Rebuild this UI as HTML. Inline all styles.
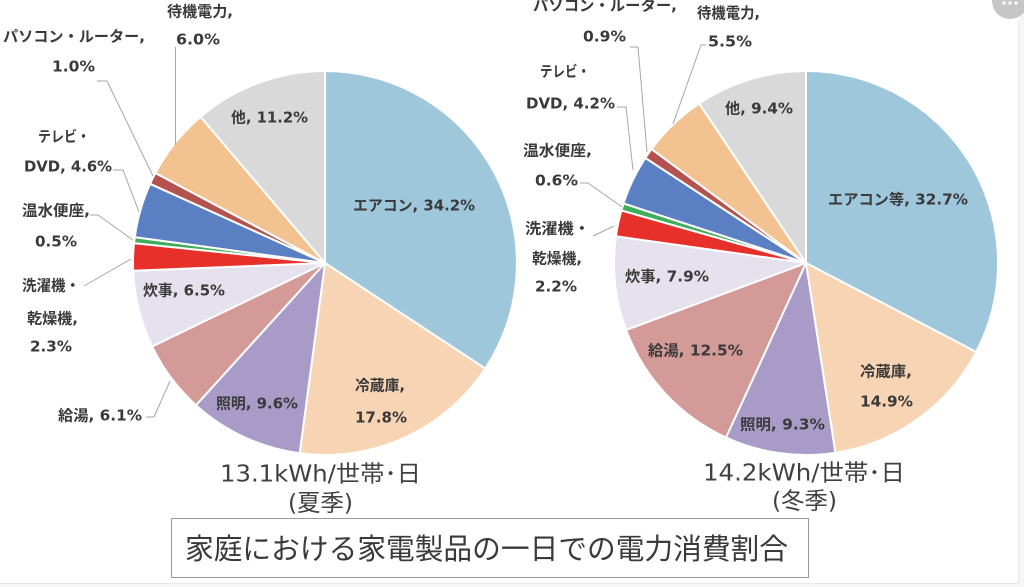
<!DOCTYPE html>
<html>
<head>
<meta charset="utf-8">
<style>
html,body{margin:0;padding:0;background:#ffffff;}
body{width:1024px;height:587px;overflow:hidden;position:relative;}
svg{position:absolute;left:0;top:0;}
.l{font-family:"DejaVu Sans","Noto Sans CJK JP",sans-serif;font-weight:bold;font-size:15px;fill:#3a3a3a;}
.s{font-family:"DejaVu Sans","Noto Sans CJK JP",sans-serif;font-weight:normal;font-size:23px;fill:#404040;}
.t{font-family:"Noto Sans CJK JP","Liberation Sans",sans-serif;font-weight:normal;font-size:29px;fill:#3a3a3a;}
</style>
</head>
<body>
<svg width="1024" height="587" viewBox="0 0 1024 587" xmlns="http://www.w3.org/2000/svg">
<rect x="0" y="0" width="1024" height="587" fill="#ffffff"/>
<rect x="1019" y="0" width="5" height="587" fill="#f6f6f6"/>
<rect x="0" y="583" width="1024" height="4" fill="#f6f6f6"/>
<line x1="1018.5" y1="20" x2="1018.5" y2="583" stroke="#e8e8e8" stroke-width="1"/>
<line x1="0" y1="583.5" x2="1019" y2="583.5" stroke="#e8e8e8" stroke-width="1"/>

<!-- top-right menu button -->
<circle cx="1010" cy="1" r="18" fill="#c6c6c6"/>
<circle cx="1004" cy="3" r="1.6" fill="#ffffff"/>
<circle cx="1010" cy="3" r="1.6" fill="#ffffff"/>
<circle cx="1016" cy="3" r="1.6" fill="#ffffff"/>

<!-- LEFT PIE -->
<g stroke="#ffffff" stroke-width="2" stroke-linejoin="round">
<path d="M325,263 L325,71 A192,192 0 0 1 485.3,368.6 Z" fill="#9ec7dc"/>
<path d="M325,263 L485.3,368.6 A192,192 0 0 1 299.7,453.3 Z" fill="#f7d4b3"/>
<path d="M325,263 L299.7,453.3 A192,192 0 0 1 196.0,405.2 Z" fill="#a99bc7"/>
<path d="M325,263 L196.0,405.2 A192,192 0 0 1 152.1,346.5 Z" fill="#d49a97"/>
<path d="M325,263 L152.1,346.5 A192,192 0 0 1 133.2,270.8 Z" fill="#e5e1ed"/>
<path d="M325,263 L133.2,270.8 A192,192 0 0 1 134.0,243.1 Z" fill="#e8302a"/>
<path d="M325,263 L134.0,243.1 A192,192 0 0 1 134.8,237.1 Z" fill="#3fae5c"/>
<path d="M325,263 L134.8,237.1 A192,192 0 0 1 150.1,183.8 Z" fill="#5b7fc3"/>
<path d="M325,263 L150.1,183.8 A192,192 0 0 1 155.4,173.0 Z" fill="#b4524f"/>
<path d="M325,263 L155.4,173.0 A192,192 0 0 1 200.6,116.8 Z" fill="#f3c291"/>
<path d="M325,263 L200.6,116.8 A192,192 0 0 1 325,71 Z" fill="#d9d9d9"/>
</g>

<!-- RIGHT PIE -->
<g stroke="#ffffff" stroke-width="2" stroke-linejoin="round">
<path d="M806,263 L806,71 A192,192 0 0 1 976.2,352.0 Z" fill="#9ec7dc"/>
<path d="M806,263 L976.2,352.0 A192,192 0 0 1 835.4,452.7 Z" fill="#f7d4b3"/>
<path d="M806,263 L835.4,452.7 A192,192 0 0 1 726.0,437.5 Z" fill="#a99bc7"/>
<path d="M806,263 L726.0,437.5 A192,192 0 0 1 626.1,330.0 Z" fill="#d49a97"/>
<path d="M806,263 L626.1,330.0 A192,192 0 0 1 615.9,236.3 Z" fill="#e5e1ed"/>
<path d="M806,263 L615.9,236.3 A192,192 0 0 1 621.4,210.4 Z" fill="#e8302a"/>
<path d="M806,263 L621.4,210.4 A192,192 0 0 1 623.5,203.4 Z" fill="#3fae5c"/>
<path d="M806,263 L623.5,203.4 A192,192 0 0 1 645.3,157.9 Z" fill="#5b7fc3"/>
<path d="M806,263 L645.3,157.9 A192,192 0 0 1 651.5,149.1 Z" fill="#b4524f"/>
<path d="M806,263 L651.5,149.1 A192,192 0 0 1 699.2,103.5 Z" fill="#f3c291"/>
<path d="M806,263 L699.2,103.5 A192,192 0 0 1 806,71 Z" fill="#d9d9d9"/>
</g>

<!-- leader lines -->
<g stroke="#a6a6a6" stroke-width="1" fill="none">
<path d="M175.5,47 L175.5,145"/>
<path d="M97,81 L107,81 L153,176"/>
<path d="M113,170 L123,170 L139,212"/>
<path d="M90,215 L98,215 L133,240"/>
<path d="M84,286 L131,259"/>
<path d="M146,417 L154,417 L170,381"/>

<path d="M630,47 L638,47 L647,152"/>
<path d="M706,45 L701,45 L673,124"/>
<path d="M617,107 L626,107 L633,170"/>
<path d="M580,183 L588,183 L622,207"/>
<path d="M593,236 L614,226"/>
</g>

<!-- LEFT LABELS -->
<text class="l" x="167" y="16.5" textLength="66" lengthAdjust="spacingAndGlyphs">待機電力,</text>
<text class="l" x="176" y="44.5" textLength="44" lengthAdjust="spacingAndGlyphs">6.0%</text>
<text class="l" x="3" y="41.5" textLength="142" lengthAdjust="spacingAndGlyphs">パソコン・ルーター,</text>
<text class="l" x="52" y="71.5" textLength="43" lengthAdjust="spacingAndGlyphs">1.0%</text>
<text class="l" x="231" y="122.5" textLength="77" lengthAdjust="spacingAndGlyphs">他, 11.2%</text>
<text class="l" x="38" y="141.5" textLength="52" lengthAdjust="spacingAndGlyphs">テレビ・</text>
<text class="l" x="24" y="171.5" textLength="88" lengthAdjust="spacingAndGlyphs">DVD, 4.6%</text>
<text class="l" x="22" y="215.5" textLength="68" lengthAdjust="spacingAndGlyphs">温水便座,</text>
<text class="l" x="35" y="246.5" textLength="42" lengthAdjust="spacingAndGlyphs">0.5%</text>
<text class="l" x="22" y="290.5" textLength="58" lengthAdjust="spacingAndGlyphs">洗濯機・</text>
<text class="l" x="27" y="323.5" textLength="51" lengthAdjust="spacingAndGlyphs">乾燥機,</text>
<text class="l" x="30" y="351.5" textLength="42" lengthAdjust="spacingAndGlyphs">2.3%</text>
<text class="l" x="143" y="295.5" textLength="82" lengthAdjust="spacingAndGlyphs">炊事, 6.5%</text>
<text class="l" x="353" y="210.5" textLength="122" lengthAdjust="spacingAndGlyphs">エアコン, 34.2%</text>
<text class="l" x="58" y="420.5" textLength="84" lengthAdjust="spacingAndGlyphs">給湯, 6.1%</text>
<text class="l" x="216" y="408.5" textLength="82" lengthAdjust="spacingAndGlyphs">照明, 9.6%</text>
<text class="l" x="355" y="390.5" textLength="50" lengthAdjust="spacingAndGlyphs">冷蔵庫,</text>
<text class="l" x="355" y="422.5" textLength="52" lengthAdjust="spacingAndGlyphs">17.8%</text>
<text class="s" x="220" y="481.5" textLength="201" lengthAdjust="spacingAndGlyphs">13.1kWh/世帯･日</text>
<text class="s" x="288" y="510.5" textLength="65" lengthAdjust="spacingAndGlyphs">(夏季)</text>

<!-- RIGHT LABELS -->
<text class="l" x="533" y="10.5" textLength="144" lengthAdjust="spacingAndGlyphs">パソコン・ルーター,</text>
<text class="l" x="697" y="18" textLength="63" lengthAdjust="spacingAndGlyphs">待機電力,</text>
<text class="l" x="583" y="41.5" textLength="43" lengthAdjust="spacingAndGlyphs">0.9%</text>
<text class="l" x="708" y="46.5" textLength="44" lengthAdjust="spacingAndGlyphs">5.5%</text>
<text class="l" x="540" y="76.5" textLength="50" lengthAdjust="spacingAndGlyphs">テレビ・</text>
<text class="l" x="526" y="108.5" textLength="89" lengthAdjust="spacingAndGlyphs">DVD, 4.2%</text>
<text class="l" x="725" y="113.5" textLength="68" lengthAdjust="spacingAndGlyphs">他, 9.4%</text>
<text class="l" x="523" y="155.5" textLength="69" lengthAdjust="spacingAndGlyphs">温水便座,</text>
<text class="l" x="535" y="185.5" textLength="43" lengthAdjust="spacingAndGlyphs">0.6%</text>
<text class="l" x="828" y="204.5" textLength="140" lengthAdjust="spacingAndGlyphs">エアコン等, 32.7%</text>
<text class="l" x="525" y="233.5" textLength="65" lengthAdjust="spacingAndGlyphs">洗濯機・</text>
<text class="l" x="532" y="263.5" textLength="50" lengthAdjust="spacingAndGlyphs">乾燥機,</text>
<text class="l" x="535" y="291.5" textLength="42" lengthAdjust="spacingAndGlyphs">2.2%</text>
<text class="l" x="625" y="281.5" textLength="84" lengthAdjust="spacingAndGlyphs">炊事, 7.9%</text>
<text class="l" x="648" y="355.5" textLength="95" lengthAdjust="spacingAndGlyphs">給湯, 12.5%</text>
<text class="l" x="740" y="429.5" textLength="85" lengthAdjust="spacingAndGlyphs">照明, 9.3%</text>
<text class="l" x="860" y="376.5" textLength="52" lengthAdjust="spacingAndGlyphs">冷蔵庫,</text>
<text class="l" x="860" y="406.5" textLength="53" lengthAdjust="spacingAndGlyphs">14.9%</text>
<text class="s" x="703" y="480.5" textLength="202" lengthAdjust="spacingAndGlyphs">14.2kWh/世帯･日</text>
<text class="s" x="772" y="508.5" textLength="65" lengthAdjust="spacingAndGlyphs">(冬季)</text>

<!-- Title box -->
<rect x="171.5" y="518.5" width="637" height="59" fill="#ffffff" stroke="#9a9a9a" stroke-width="1"/>
<text class="t" x="185" y="559" textLength="603" lengthAdjust="spacingAndGlyphs">家庭における家電製品の一日での電力消費割合</text>
</svg>
</body>
</html>
